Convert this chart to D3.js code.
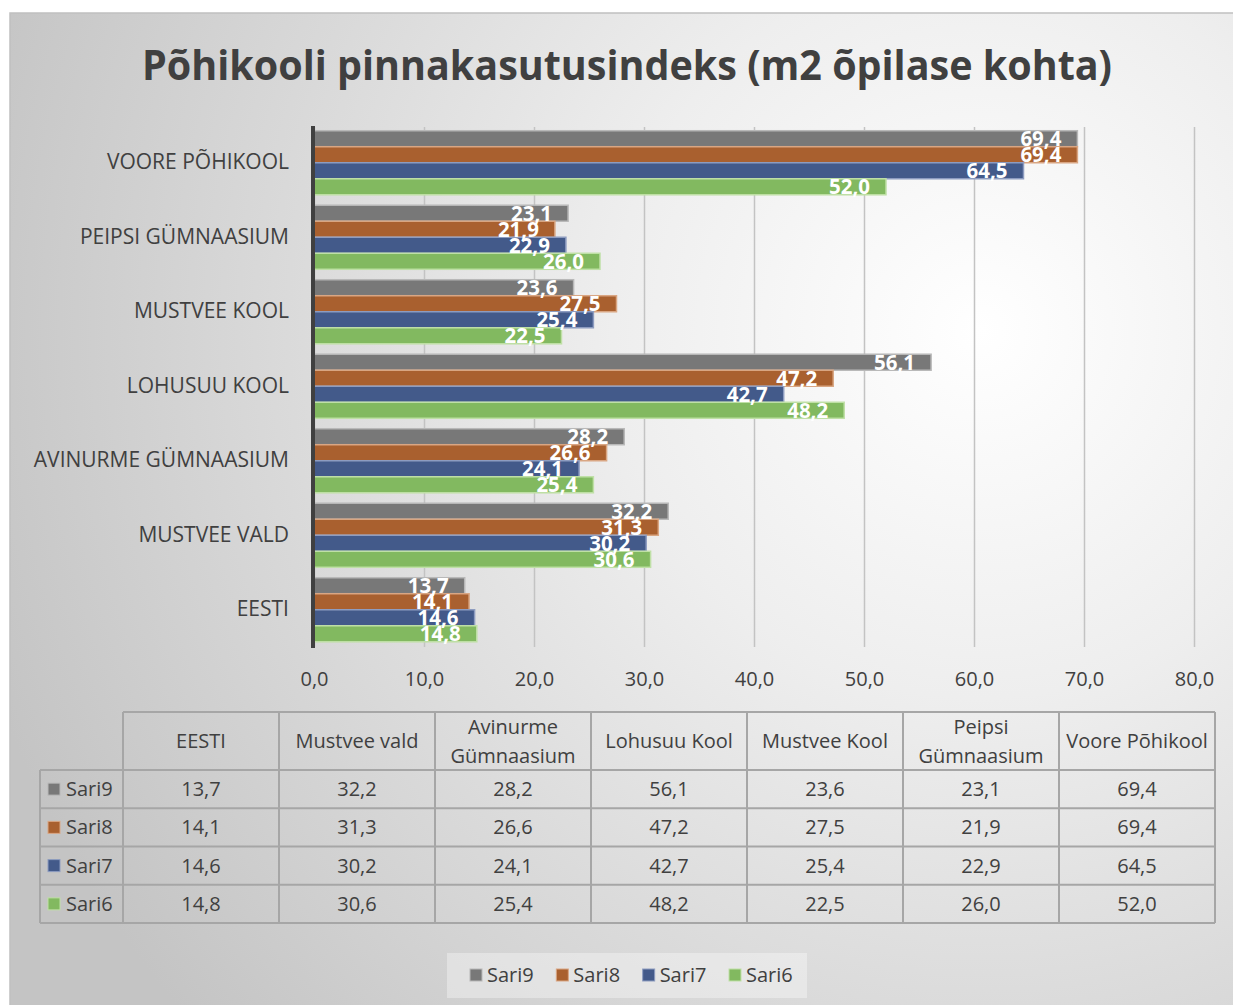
<!DOCTYPE html>
<html>
<head>
<meta charset="utf-8">
<script src="https://cdn.jsdelivr.net/npm/d3@7"></script>
<style>
  body { margin: 0; background: #fff; }
  text { font-family: "Open Sans", sans-serif; fill: #404040; }
</style>
</head>
<body>
<script>
// data
var categories = ["EESTI", "MUSTVEE VALD", "AVINURME GÜMNAASIUM", "LOHUSUU KOOL", "MUSTVEE KOOL", "PEIPSI GÜMNAASIUM", "VOORE PÕHIKOOL"];
var tableHeaders = ["EESTI", "Mustvee vald", "Avinurme Gümnaasium", "Lohusuu Kool", "Mustvee Kool", "Peipsi Gümnaasium", "Voore Põhikool"];
var seriesNames = ["Sari9", "Sari8", "Sari7", "Sari6"];
var sari9 = [13.7, 32.2, 28.2, 56.1, 23.6, 23.1, 69.4];
var sari8 = [14.1, 31.3, 26.6, 47.2, 27.5, 21.9, 69.4];
var sari7 = [14.6, 30.2, 24.1, 42.7, 25.4, 22.9, 64.5];
var sari6 = [14.8, 30.6, 25.4, 48.2, 22.5, 26.0, 52.0];
var xTicks = [0, 10, 20, 30, 40, 50, 60, 70, 80];
var title = "Põhikooli pinnakasutusindeks (m2 õpilase kohta)";

var seriesValues = [sari9, sari8, sari7, sari6];
var colors = ["#787878", "#a9602f", "#435a8a", "#82b960"];
var borders = ["#b8b8b8", "#d9a683", "#8d9cc0", "#bfe0a6"];

var width = 1233, height = 1005;
var fmt = d3.formatLocale({decimal: ",", thousands: " ", grouping: [3], currency: ["", ""]}).format(".1f");

var svg = d3.select("body").append("svg")
    .attr("width", width)
    .attr("height", height);

// background
var defs = svg.append("defs");
var grad = defs.append("radialGradient")
    .attr("id", "bg")
    .attr("gradientUnits", "userSpaceOnUse")
    .attr("cx", 980).attr("cy", 330).attr("r", 1050);
grad.append("stop").attr("offset", "0").attr("stop-color", "#ffffff");
grad.append("stop").attr("offset", "0.35").attr("stop-color", "#eeeeee");
grad.append("stop").attr("offset", "1").attr("stop-color", "#c4c4c4");

svg.append("rect")
    .attr("x", 10).attr("y", 13)
    .attr("width", 1230).attr("height", 1000)
    .attr("fill", "url(#bg)")
    .attr("stroke", "#c0c0c0")
    .attr("stroke-width", 1.5);

// title
var t = svg.append("text")
    .attr("x", 627).attr("y", 80)
    .attr("text-anchor", "middle")
    .style("font-size", "42px")
    .style("font-weight", "bold")
    .text(title);
if (t.node().getComputedTextLength() > 970) {
    t.attr("textLength", 970).attr("lengthAdjust", "spacingAndGlyphs");
}

// scales
var x = d3.scaleLinear().domain([0, 80]).range([314, 1194]);
var y = d3.scaleBand()
    .domain(categories.slice().reverse())
    .range([125.5, 647])
    .paddingInner(0.14)
    .paddingOuter(0.07);
var ySub = d3.scaleBand().domain(seriesNames).range([0, y.bandwidth()]);

// grid + tick labels
var gridAxis = d3.axisBottom(x)
    .tickValues(xTicks)
    .tickSize(-520)
    .tickPadding(25)
    .tickFormat(fmt);
var gx = svg.append("g")
    .attr("transform", "translate(0,647)")
    .call(gridAxis);
gx.select(".domain").remove();
gx.selectAll(".tick line").attr("stroke", "#c3c3c3").attr("stroke-width", 1.5);
gx.selectAll(".tick text")
    .attr("fill", "#404040")
    .style("font-size", "20px")
    .style("font-family", "'Open Sans', sans-serif");

// bars
var groups = svg.selectAll("g.cat")
    .data(categories)
    .enter().append("g")
    .attr("class", "cat")
    .attr("transform", function (d) { return "translate(0," + y(d) + ")"; });

groups.each(function (cat, ci) {
    var g = d3.select(this);
    seriesNames.forEach(function (s, si) {
        var v = seriesValues[si][ci];
        g.append("rect")
            .attr("x", x(0))
            .attr("y", ySub(s))
            .attr("width", x(v) - x(0))
            .attr("height", ySub.bandwidth())
            .attr("fill", colors[si])
            .attr("stroke", borders[si])
            .attr("stroke-width", 1.5);
    });
    seriesNames.forEach(function (s, si) {
        var v = seriesValues[si][ci];
        g.append("text")
            .attr("x", x(v) - 16)
            .attr("y", ySub(s) + ySub.bandwidth() / 2 + 7.5)
            .attr("text-anchor", "end")
            .style("font-size", "20.5px")
            .style("font-weight", "bold")
            .style("fill", "#ffffff")
            .text(fmt(v));
    });
});

// category axis
var yAxis = d3.axisLeft(y).tickSize(0).tickPadding(24);
var gy = svg.append("g")
    .attr("transform", "translate(313,0)")
    .call(yAxis);
gy.select(".domain").remove();
gy.selectAll(".tick text")
    .attr("fill", "#404040")
    .style("font-size", "21px")
    .style("font-family", "'Open Sans', sans-serif");
svg.append("line")
    .attr("x1", 313).attr("x2", 313)
    .attr("y1", 126).attr("y2", 648)
    .attr("stroke", "#404040")
    .attr("stroke-width", 4);

// data table
var colX = d3.scaleBand().domain(tableHeaders).range([123, 1215]);
var rowY = d3.scaleBand().domain(seriesNames).range([770, 923]);
var tbl = svg.append("g");
var lineColor = "#a6a6a6";

tbl.append("line").attr("x1", 123).attr("x2", 1215).attr("y1", 712).attr("y2", 712);
[770].concat(seriesNames.map(function (s) { return rowY(s) + rowY.bandwidth(); })).forEach(function (yy) {
    tbl.append("line").attr("x1", 40).attr("x2", 1215).attr("y1", yy).attr("y2", yy);
});
tbl.append("line").attr("x1", 40).attr("x2", 40).attr("y1", 770).attr("y2", 923);
tableHeaders.forEach(function (h) {
    tbl.append("line").attr("x1", colX(h)).attr("x2", colX(h)).attr("y1", 712).attr("y2", 923);
});
tbl.append("line").attr("x1", 1215).attr("x2", 1215).attr("y1", 712).attr("y2", 923);
tbl.selectAll("line").attr("stroke", lineColor).attr("stroke-width", 2);

tableHeaders.forEach(function (h) {
    var cx = colX(h) + colX.bandwidth() / 2;
    var txt = tbl.append("text")
        .attr("x", cx)
        .attr("text-anchor", "middle")
        .style("font-size", "20px");
    var words = h.split(" ");
    var single = txt.text(h).node().getComputedTextLength() < colX.bandwidth() - 4;
    if (single) {
        txt.attr("y", 748);
    } else {
        txt.text(null).attr("y", 734);
        txt.append("tspan").attr("x", cx).attr("dy", 0).text(words[0]);
        txt.append("tspan").attr("x", cx).attr("dy", 29).text(words.slice(1).join(" "));
    }
});

seriesNames.forEach(function (s, si) {
    var yc = rowY(s) + rowY.bandwidth() / 2;
    tbl.append("rect")
        .attr("x", 48).attr("y", yc - 6)
        .attr("width", 12).attr("height", 12)
        .attr("fill", colors[si])
        .attr("stroke", borders[si])
        .attr("stroke-width", 1);
    tbl.append("text")
        .attr("x", 66).attr("y", yc + 7)
        .style("font-size", "20px")
        .text(s);
    tableHeaders.forEach(function (h, ci) {
        tbl.append("text")
            .attr("x", colX(h) + colX.bandwidth() / 2)
            .attr("y", yc + 7)
            .attr("text-anchor", "middle")
            .style("font-size", "20px")
            .text(fmt(seriesValues[si][ci]));
    });
});

// legend
var leg = svg.append("g");
leg.append("rect")
    .attr("x", 447).attr("y", 953)
    .attr("width", 360).attr("height", 45)
    .attr("fill", "#ffffff")
    .attr("fill-opacity", 0.35);
var legX = d3.scalePoint().domain(seriesNames).range([470, 729]);
seriesNames.forEach(function (s, si) {
    leg.append("rect")
        .attr("x", legX(s)).attr("y", 969)
        .attr("width", 12).attr("height", 12)
        .attr("fill", colors[si])
        .attr("stroke", borders[si])
        .attr("stroke-width", 1);
    leg.append("text")
        .attr("x", legX(s) + 17).attr("y", 982)
        .style("font-size", "20px")
        .text(s);
});
</script>
</body>
</html>
